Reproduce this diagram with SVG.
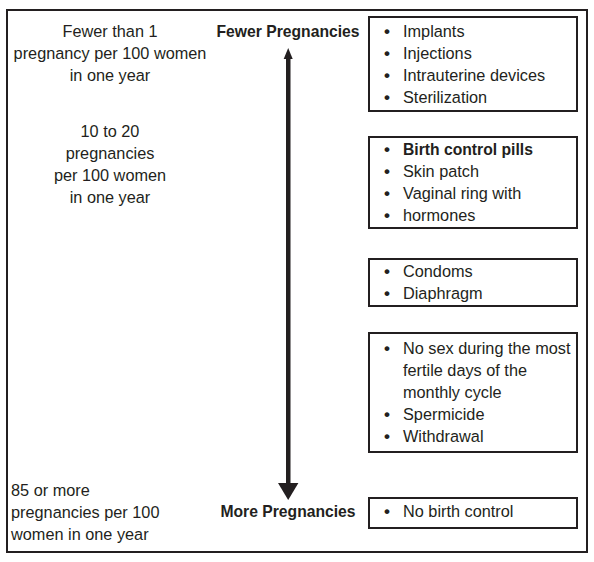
<svg xmlns="http://www.w3.org/2000/svg" width="594" height="562" viewBox="0 0 594 562">
<style>
text{font-family:"Liberation Sans",Arial,sans-serif;font-size:16.3px;fill:#231f20}
.c{text-anchor:middle}
.b{font-weight:bold;font-size:15.7px}
.u{font-weight:bold;font-size:17px}
.box{fill:none;stroke:#231f20;stroke-width:2}
</style>
<rect width="594" height="562" fill="#fff"/>
<rect x="7" y="10" width="580" height="542" class="box"/>
<g id="left-top">
<text class="c" x="110" y="37">Fewer than 1</text>
<text class="c" x="110" y="59">pregnancy per 100 women</text>
<text class="c" x="110" y="81">in one year</text>
</g>
<g id="left-mid">
<text class="c" x="110" y="137">10 to 20</text>
<text class="c" x="110" y="159">pregnancies</text>
<text class="c" x="110" y="181">per 100 women</text>
<text class="c" x="110" y="203">in one year</text>
</g>
<g id="left-bottom">
<text x="11" y="496">85 or more</text>
<text x="11" y="518">pregnancies per 100</text>
<text x="11" y="540">women in one year</text>
</g>
<g id="label-fewer"><text class="c b" x="288" y="37">Fewer Pregnancies</text></g>
<g id="label-more"><text class="c b" x="288" y="517">More Pregnancies</text></g>
<g id="connectors">
<rect x="286" y="57" width="4.5" height="428" fill="#231f20"/>
<polygon points="288.2,48 292.7,59 283.7,59" fill="#231f20"/>
<polygon points="288.2,500 278,483 298.4,483" fill="#231f20"/>
</g>
<g id="box1">
<rect x="369" y="17" width="208" height="94" class="box"/>
<text class="u" x="384" y="37">•</text><text x="403" y="37">Implants</text>
<text class="u" x="384" y="59">•</text><text x="403" y="59">Injections</text>
<text class="u" x="384" y="81">•</text><text x="403" y="81">Intrauterine devices</text>
<text class="u" x="384" y="103">•</text><text x="403" y="103">Sterilization</text>
</g>
<g id="box2">
<rect x="369" y="137" width="208" height="91" class="box"/>
<text class="u" x="384" y="155">•</text><text class="b" x="403" y="155">Birth control pills</text>
<text class="u" x="384" y="177">•</text><text x="403" y="177">Skin patch</text>
<text class="u" x="384" y="199">•</text><text x="403" y="199">Vaginal ring with</text>
<text class="u" x="384" y="221">•</text><text x="403" y="221">hormones</text>
</g>
<g id="box3">
<rect x="369" y="259" width="208" height="47" class="box"/>
<text class="u" x="384" y="277">•</text><text x="403" y="277">Condoms</text>
<text class="u" x="384" y="299">•</text><text x="403" y="299">Diaphragm</text>
</g>
<g id="box4">
<rect x="369" y="333" width="208" height="119" class="box"/>
<text class="u" x="384" y="354">•</text><text x="403" y="354">No sex during the most</text>
<text x="403" y="376">fertile days of the</text>
<text x="403" y="398">monthly cycle</text>
<text class="u" x="384" y="420">•</text><text x="403" y="420">Spermicide</text>
<text class="u" x="384" y="442">•</text><text x="403" y="442">Withdrawal</text>
</g>
<g id="box5">
<rect x="369" y="498" width="208" height="30" class="box"/>
<text class="u" x="384" y="517">•</text><text x="403" y="517">No birth control</text>
</g>
</svg>
